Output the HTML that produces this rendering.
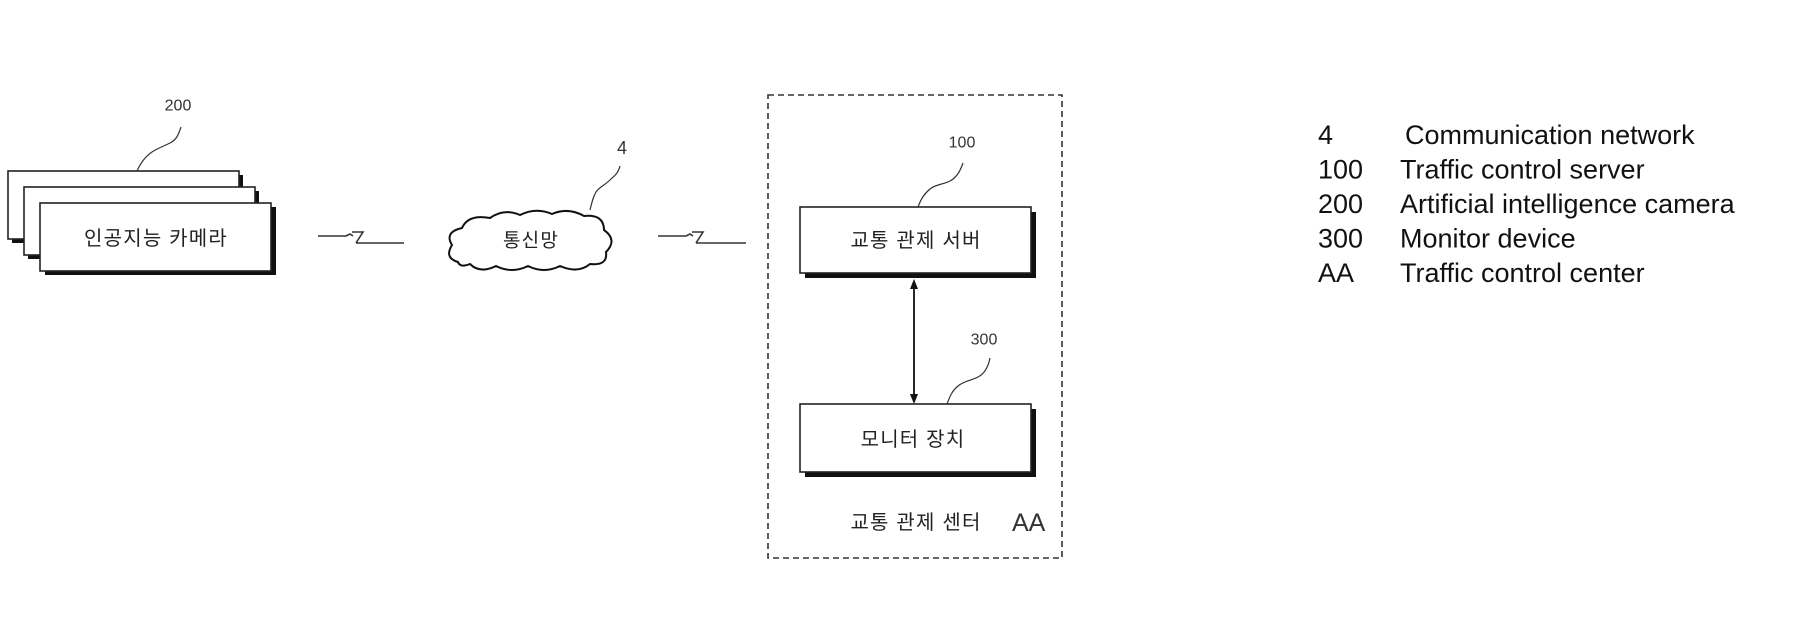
<!DOCTYPE html>
<html>
<head>
<meta charset="utf-8">
<style>
  html, body { margin:0; padding:0; background:#fff; }
  body { width:1811px; height:639px; overflow:hidden; }
  svg { display:block; }
  .kr { font-family: "Liberation Sans", "Noto Sans CJK KR", "NanumGothic", sans-serif; fill:#222; letter-spacing:1.2px; }
  .lbl { font-family: "Liberation Sans", sans-serif; fill:#333; }
  .leg { font-family: "Liberation Sans", sans-serif; fill:#111; font-size:27px; }
</style>
</head>
<body>
<svg width="1811" height="639" viewBox="0 0 1811 639" xmlns="http://www.w3.org/2000/svg">
  <rect x="0" y="0" width="1811" height="639" fill="#fff"/>

  <!-- ===== Camera stack (200) ===== -->
  <g stroke="#222" stroke-width="1.6" fill="#fff">
    <rect x="12" y="175" width="231" height="68" fill="#111" stroke="none"/>
    <rect x="8" y="171" width="231" height="68"/>
    <rect x="28" y="191" width="231" height="68" fill="#111" stroke="none"/>
    <rect x="24" y="187" width="231" height="68"/>
    <rect x="45" y="207" width="231" height="68" fill="#111" stroke="none"/>
    <rect x="40" y="203" width="231" height="68"/>
  </g>
  <text class="kr" x="156" y="239" font-size="20" text-anchor="middle" dominant-baseline="central">인공지능 카메라</text>
  <text class="lbl" x="178" y="106" font-size="16" text-anchor="middle" dominant-baseline="central">200</text>
  <path d="M181,127 C178,136 176,140 170,143 C162,147 158,148 152,152 C146,156 141,162 137,171" fill="none" stroke="#333" stroke-width="1.2"/>

  <!-- ===== Zigzag connector 1 ===== -->
  <path d="M318,236 L346,236 L350,234 L353,236 M352,232 L363,232 L356,243 M356,243 L404,243" fill="none" stroke="#333" stroke-width="1.6"/>

  <!-- ===== Cloud (4) ===== -->
  <path d="M458,262 Q444,258 452,245 Q444,232 462,228 Q468,214 490,218 Q504,208 520,215 Q536,207 552,214 Q568,207 584,216 Q604,214 604,230 Q618,240 606,252 Q608,266 590,264 Q578,274 560,266 Q544,274 528,266 Q512,274 496,266 Q480,274 470,264 Q460,268 458,262 Z" fill="#fff" stroke="#111" stroke-width="2"/>
  <text class="kr" x="531" y="241" font-size="19" text-anchor="middle" dominant-baseline="central">통신망</text>
  <text class="lbl" x="622" y="148" font-size="18" text-anchor="middle" dominant-baseline="central">4</text>
  <path d="M620,166 C618,174 614,176 610,180 C604,186 600,186 596,192 C593,197 592,202 590,210" fill="none" stroke="#333" stroke-width="1.2"/>

  <!-- ===== Zigzag connector 2 ===== -->
  <path d="M658,236 L686,236 L690,234 L693,236 M692,232 L703,232 L696,243 M696,243 L746,243" fill="none" stroke="#333" stroke-width="1.6"/>

  <!-- ===== Traffic control center container (AA) ===== -->
  <rect x="768" y="95" width="294" height="463" fill="none" stroke="#333" stroke-width="1.6" stroke-dasharray="6,4"/>

  <!-- Server box (100) -->
  <rect x="805" y="212" width="231" height="66" fill="#111"/>
  <rect x="800" y="207" width="231" height="66" fill="#fff" stroke="#222" stroke-width="1.6"/>
  <text class="kr" x="916" y="241" font-size="20" text-anchor="middle" dominant-baseline="central">교통 관제 서버</text>
  <text class="lbl" x="962" y="143" font-size="16" text-anchor="middle" dominant-baseline="central">100</text>
  <path d="M963,163 C960,172 956,178 950,181 C942,185 936,184 930,189 C924,194 921,199 918,207" fill="none" stroke="#333" stroke-width="1.2"/>

  <!-- Double arrow -->
  <line x1="914" y1="286" x2="914" y2="397" stroke="#111" stroke-width="1.8"/>
  <polygon points="914,279 910,289 918,289" fill="#111"/>
  <polygon points="914,404 910,394 918,394" fill="#111"/>

  <!-- Monitor box (300) -->
  <rect x="805" y="409" width="231" height="68" fill="#111"/>
  <rect x="800" y="404" width="231" height="68" fill="#fff" stroke="#222" stroke-width="1.6"/>
  <text class="kr" x="913" y="440" font-size="20" text-anchor="middle" dominant-baseline="central">모니터 장치</text>
  <text class="lbl" x="984" y="340" font-size="16" text-anchor="middle" dominant-baseline="central">300</text>
  <path d="M990,358 C988,368 984,374 978,377 C970,381 964,381 958,386 C952,391 950,396 947,404" fill="none" stroke="#333" stroke-width="1.2"/>

  <!-- Center label -->
  <text class="kr" x="916" y="523" font-size="20" text-anchor="middle" dominant-baseline="central">교통 관제 센터</text>
  <text class="lbl" x="1012" y="523" font-size="25" dominant-baseline="central" fill="#111">AA</text>

  <!-- ===== Legend ===== -->
  <text class="leg" x="1318" y="135" dominant-baseline="central">4</text>
  <text class="leg" x="1405" y="135" dominant-baseline="central">Communication network</text>
  <text class="leg" x="1318" y="169.5" dominant-baseline="central">100</text>
  <text class="leg" x="1400" y="169.5" dominant-baseline="central">Traffic control server</text>
  <text class="leg" x="1318" y="204" dominant-baseline="central">200</text>
  <text class="leg" x="1400" y="204" dominant-baseline="central">Artificial intelligence camera</text>
  <text class="leg" x="1318" y="238.5" dominant-baseline="central">300</text>
  <text class="leg" x="1400" y="238.5" dominant-baseline="central">Monitor device</text>
  <text class="leg" x="1318" y="273" dominant-baseline="central">AA</text>
  <text class="leg" x="1400" y="273" dominant-baseline="central">Traffic control center</text>
</svg>
</body>
</html>
